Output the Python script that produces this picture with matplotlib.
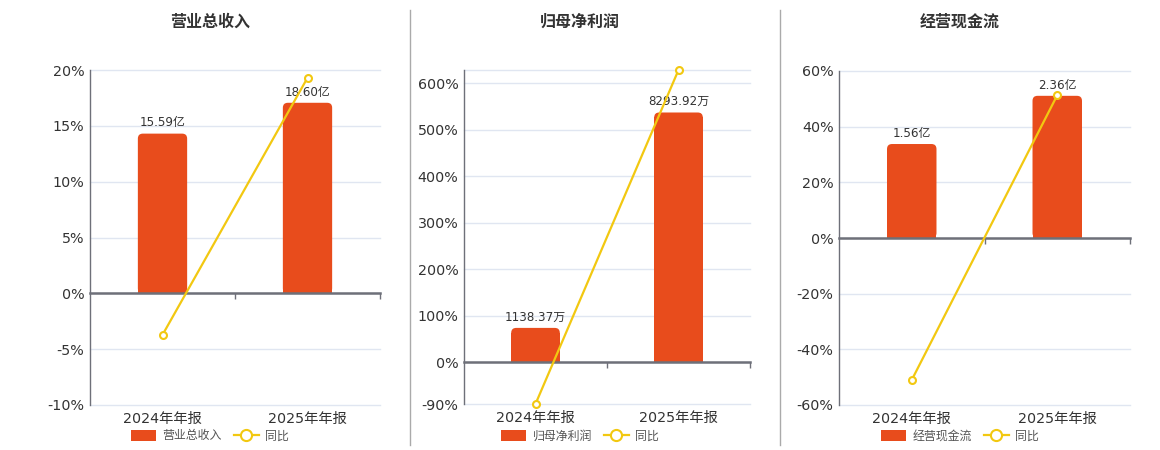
import matplotlib
matplotlib.use("Agg")
import matplotlib.pyplot as plt
from matplotlib.patches import Patch, FancyBboxPatch
from matplotlib.lines import Line2D

plt.rcParams['font.family'] = ['DejaVu Sans', 'Noto Sans CJK SC']

# ---- data ----
categories = ['2024年年报', '2025年年报']
titles = ['营业总收入', '归母净利润', '经营现金流']
bar_values = [[15.59, 18.60], [1138.37, 8293.92], [1.56, 2.36]]
bar_labels = [['15.59亿', '18.60亿'], ['1138.37万', '8293.92万'], ['1.56亿', '2.36亿']]
yoy_values = [[-3.72, 19.3], [-90.0, 628.6], [-51.0, 51.3]]
pct_ticks = [[-10, -5, 0, 5, 10, 15, 20],
             [-90, 0, 100, 200, 300, 400, 500, 600],
             [-60, -40, -20, 0, 20, 40, 60]]
pct_limits = [(-10, 20), (-90, 628.6), (-60, 60)]
bar_scale = [1.09, 15.44, 0.0462]   # bar units per percent of the hidden bar axis
series_name = '同比'

# ---- layout (pixels) ----
W, H = 1160, 450
axes_px = [(90, 380, 70, 405), (464, 750, 70, 404), (839, 1130, 71, 405)]
centers_px = [210, 580, 960]
sep_px = [410, 780]

BAR = '#E84C1C'
LINE = '#F2C811'
TXT = '#333333'
GRID = '#E0E6F1'
AXC = '#6E7079'

fig = plt.figure(figsize=(W / 100, H / 100), dpi=100)
fig.patch.set_facecolor('white')

for i in range(3):
    l, r, t, b = axes_px[i]
    rect = [l / W, (H - b) / H, (r - l) / W, (b - t) / H]
    ax = fig.add_axes(rect)
    ax2 = fig.add_axes(rect)
    ax3 = fig.add_axes(rect)
    for a in (ax2, ax3):
        a.patch.set_visible(False)
        for s in a.spines.values():
            s.set_visible(False)
    x = list(range(len(categories)))
    lo, hi = pct_limits[i]
    for a in (ax, ax2, ax3):
        a.set_xlim(-0.5, 1.5)
    ax.set_ylim(lo, hi)
    ax3.set_ylim(lo, hi)
    ax2.set_ylim(lo * bar_scale[i], hi * bar_scale[i])

    # percent axis
    ticks = list(pct_ticks[i])
    ax.set_yticks(ticks)
    ax.set_yticklabels([f'{v}%' for v in ticks], fontsize=10.3, color=TXT)
    if hi not in ticks:
        ax.axhline(hi, color=GRID, lw=1, zorder=0, clip_on=False)
    ax.grid(axis='y', color=GRID, lw=1)
    for gl in ax.get_ygridlines():
        gl.set_clip_on(False)
    ax.set_axisbelow(True)
    ax.tick_params(axis='y', length=0, pad=4)
    ax.set_xticks(x)
    ax.set_xticklabels(categories, fontsize=10.3, color=TXT)
    ax.tick_params(axis='x', length=0, pad=5)
    for s in ('top', 'right', 'bottom'):
        ax.spines[s].set_visible(False)
    ax.spines['left'].set_color(AXC)
    ax.spines['left'].set_linewidth(1)

    # bars on hidden axis
    ax2.set_xticks([])
    ax2.set_yticks([])
    bars = ax2.bar(x, bar_values[i], width=0.34, color=BAR, zorder=2)
    px_w = (r - l)
    px_h = (b - t)
    xpp = 2.0 / px_w
    ypp = (hi - lo) * bar_scale[i] / px_h
    rad_px = 5
    for bp in bars:
        bx, by, bw, bh = bp.get_x(), bp.get_y(), bp.get_width(), bp.get_height()
        bp.set_height(bh - rad_px * ypp)
        fb = FancyBboxPatch((bx, by), bw, bh,
                            boxstyle=f'round,pad=0,rounding_size={rad_px * xpp}',
                            mutation_aspect=ypp / xpp, fc=BAR, ec='none', zorder=2)
        ax2.add_patch(fb)
    for xi, v, lab in zip(x, bar_values[i], bar_labels[i]):
        ax2.annotate(lab, (xi, v), xytext=(0, 3), textcoords='offset points',
                     ha='center', va='bottom', fontsize=8.6, color=TXT, zorder=3)

    # line axis with zero baseline
    ax3.plot(x, yoy_values[i], color=LINE, lw=1.6, marker='o', ms=5,
             mfc='white', mec=LINE, mew=1.5, zorder=4, clip_on=False)
    ax3.set_yticks([])
    ax3.spines['bottom'].set_visible(True)
    ax3.spines['bottom'].set_position(('data', 0))
    ax3.spines['bottom'].set_color(AXC)
    ax3.spines['bottom'].set_linewidth(1.8)
    ax3.set_xticks([0.5, 1.5])
    ax3.set_xticklabels([])
    ax3.tick_params(axis='x', direction='out', length=4, color=AXC, width=1)

    # title
    fig.text(centers_px[i] / W, 1 - 22 / H, titles[i], ha='center', va='center',
             fontsize=11.5, fontweight='bold', color=TXT)

    # legend
    handles = [Patch(fc=BAR, ec='none', label=titles[i]),
               Line2D([], [], color=LINE, lw=1.6, marker='o', ms=8, mfc='white',
                      mec=LINE, mew=1.5, label=series_name)]
    fig.legend(handles=handles, loc='center', bbox_to_anchor=(centers_px[i] / W, 14 / H),
               ncol=2, frameon=False, fontsize=8.6, labelcolor='#555555',
               handlelength=2.1, handleheight=1.1, columnspacing=1.0, handletextpad=0.5)

for sx in sep_px:
    fig.add_artist(Line2D([sx / W, sx / W], [1 - 10 / H, 1 - 445 / H], color='#AAAAAA', lw=1))

fig.savefig('out.png', dpi=100, facecolor='white')
